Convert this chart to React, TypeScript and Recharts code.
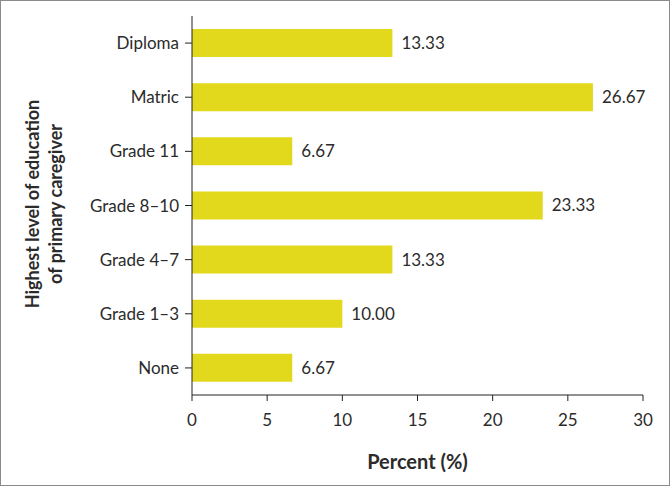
import React from 'react';
import { Bar, BarChart, LabelList, XAxis, YAxis } from 'recharts';

const categories = ['Diploma', 'Matric', 'Grade 11', 'Grade 8–10', 'Grade 4–7', 'Grade 1–3', 'None'];
const percents = [13.33, 26.67, 6.67, 23.33, 13.33, 10.0, 6.67];
const xTicks = [0, 5, 10, 15, 20, 25, 30];

const data = categories.map((label, i) => ({ label, percent: percents[i] }));

const FONT = 'Lato, "Open Sans", sans-serif';
const TEXT = '#2b2b2b';

// two-line rotated axis title, placed by hand
const YTitle = () => (
  <text
    transform="translate(0, 203) rotate(-90)"
    textAnchor="middle"
    fontFamily={FONT}
    fontWeight={700}
    fontSize={18}
    fill={TEXT}
  >
    <tspan x={0} y={38}>Highest level of education</tspan>
    <tspan x={0} y={61}>of primary caregiver</tspan>
  </text>
);

export default function App() {
  return (
    <div
      style={{
        position: 'absolute',
        left: 0,
        top: 0,
        width: 670,
        height: 486,
        boxSizing: 'border-box',
        border: '1px solid #8a8a8a',
        background: '#fff',
      }}
    >
      <BarChart
        width={668}
        height={484}
        data={data}
        layout="vertical"
        margin={{ top: 15, right: 26, bottom: 0, left: 0 }}
        barCategoryGap="24%"
      >
        <XAxis
          type="number"
          domain={[0, 30]}
          ticks={xTicks}
          interval={0}
          height={90}
          tickSize={6}
          tickMargin={13}
          stroke="#222"
          tick={{ fill: TEXT, fontSize: 17, fontFamily: FONT }}
          label={{
            value: 'Percent (%)',
            position: 'insideBottom',
            offset: 16,
            fill: TEXT,
            fontSize: 20,
            fontWeight: 700,
            fontFamily: FONT,
          }}
        />
        <YAxis
          type="category"
          dataKey="label"
          width={191}
          tickSize={7}
          tickMargin={6}
          stroke="#222"
          tick={{ fill: TEXT, fontSize: 17, fontFamily: FONT }}
          label={<YTitle />}
        />
        <Bar dataKey="percent" fill="#E2D81C" isAnimationActive={false}>
          <LabelList
            dataKey="percent"
            position="right"
            offset={9}
            formatter={(v: any) => Number(v).toFixed(2)}
            fill={TEXT}
            fontSize={17}
            fontFamily={FONT}
          />
        </Bar>
      </BarChart>
    </div>
  );
}
